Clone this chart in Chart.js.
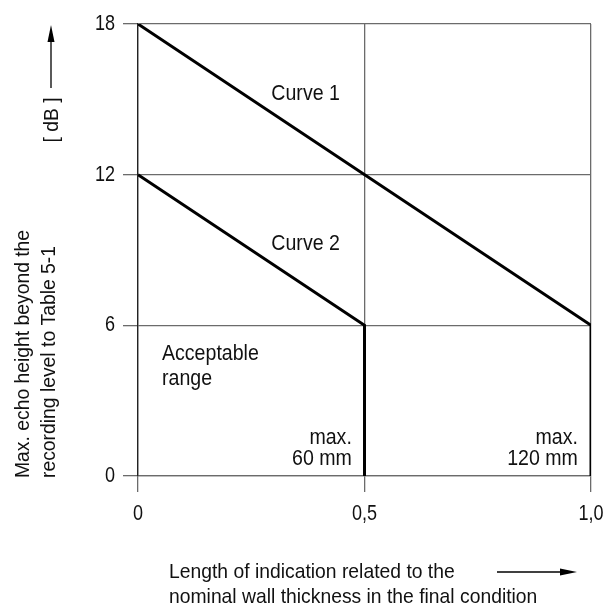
<!DOCTYPE html>
<html>
<head>
<meta charset="utf-8">
<script src="https://cdn.jsdelivr.net/npm/chart.js@4.4.1/dist/chart.umd.min.js"></script>
<style>
  html, body { margin: 0; padding: 0; background: #fff; }
  #wrap { width: 605px; height: 607px; }
</style>
</head>
<body>
<div id="wrap"><canvas id="chart" width="605" height="607"></canvas></div>
<script>
// data
const xTicks = [0, 0.5, 1.0];
const xTickLabels = ['0', '0,5', '1,0'];
const yTicks = [0, 6, 12, 18];
const yTickLabels = ['0', '6', '12', '18'];

const curve1 = [
    { x: 0, y: 18 },
    { x: 1.0, y: 6 },
    { x: 1.0, y: 0 }
];
const curve2 = [
    { x: 0, y: 12 },
    { x: 0.5, y: 6 },
    { x: 0.5, y: 0 }
];

// text notes placed in data coordinates
const notes = [
    { text: 'Curve 1', x: 0.37, y: 15.2, align: 'center' },
    { text: 'Curve 2', x: 0.37, y: 9.24, align: 'center' },
    { text: 'Acceptable', x: 0.053, y: 4.86, align: 'left' },
    { text: 'range', x: 0.053, y: 3.86, align: 'left' },
    { text: 'max.', x: 0.472, y: 1.52, align: 'right' },
    { text: '60 mm', x: 0.472, y: 0.66, align: 'right' },
    { text: 'max.', x: 0.971, y: 1.52, align: 'right' },
    { text: '120 mm', x: 0.971, y: 0.66, align: 'right' }
];

const yTitle = ['Max. echo height beyond the', 'recording level to Table 5-1'];
const xTitle = ['Length of indication related to the', 'nominal wall thickness in the final condition'];
const unitLabel = '[ dB ]';

const FONT = '"Liberation Sans", Arial, sans-serif';
const GRID = '#6b6b6b';

// the drawing uses a slightly narrow sans, so squeeze the text a bit
function text(ctx, str, x, y, align, size, squeeze, angle) {
    ctx.save();
    ctx.translate(x, y);
    if (angle) ctx.rotate(angle);
    ctx.scale(squeeze, 1);
    ctx.font = size + 'px ' + FONT;
    ctx.textAlign = align;
    ctx.textBaseline = 'middle';
    ctx.fillText(str, 0, 0);
    ctx.restore();
}

function arrow(ctx, x1, y1, x2, y2) {
    const ang = Math.atan2(y2 - y1, x2 - x1);
    const headLen = 17, headW = 3.5;
    ctx.save();
    ctx.strokeStyle = '#000';
    ctx.fillStyle = '#000';
    ctx.lineWidth = 1.3;
    ctx.beginPath();
    ctx.moveTo(x1, y1);
    ctx.lineTo(x2 - headLen * Math.cos(ang), y2 - headLen * Math.sin(ang));
    ctx.stroke();
    ctx.translate(x2, y2);
    ctx.rotate(ang);
    ctx.beginPath();
    ctx.moveTo(0, 0);
    ctx.lineTo(-headLen, -headW);
    ctx.lineTo(-headLen, headW);
    ctx.closePath();
    ctx.fill();
    ctx.restore();
}

const decorations = {
    id: 'decorations',
    afterDraw(chart) {
        const ctx = chart.ctx;
        const xs = chart.scales.x;
        const ys = chart.scales.y;
        ctx.save();
        ctx.fillStyle = '#111';

        // tick labels
        xTicks.forEach((v, i) => {
            text(ctx, xTickLabels[i], xs.getPixelForValue(v), ys.bottom + 38, 'center', 22, 0.82);
        });
        yTicks.forEach((v, i) => {
            text(ctx, yTickLabels[i], xs.left - 23, ys.getPixelForValue(v), 'right', 22, 0.82);
        });

        notes.forEach(n => {
            text(ctx, n.text, xs.getPixelForValue(n.x), ys.getPixelForValue(n.y), n.align, 21.5, 0.91);
        });

        // y title, rotated
        text(ctx, yTitle[0], 23, 478, 'left', 21, 0.92, -Math.PI / 2);
        text(ctx, yTitle[1], 49, 478, 'left', 21, 0.92, -Math.PI / 2);

        // unit label and arrow
        text(ctx, unitLabel, 52, 120, 'center', 21, 0.92, -Math.PI / 2);
        arrow(ctx, 51, 88, 51, 25);

        // x title
        text(ctx, xTitle[0], 169, 572, 'left', 21, 0.92);
        text(ctx, xTitle[1], 169, 597, 'left', 21, 0.92);
        arrow(ctx, 497, 572, 577, 572);
        ctx.restore();
    }
};

new Chart(document.getElementById('chart'), {
    type: 'scatter',
    data: {
        datasets: [
            {
                label: 'Curve 1',
                data: curve1,
                showLine: true,
                borderColor: '#000',
                borderWidth: 3,
                pointRadius: 0,
                fill: false
            },
            {
                label: 'Curve 2',
                data: curve2,
                showLine: true,
                borderColor: '#000',
                borderWidth: 3,
                pointRadius: 0,
                fill: false
            }
        ]
    },
    options: {
        responsive: false,
        animation: false,
        devicePixelRatio: 1,
        layout: { padding: { top: 24, right: 14, left: 0, bottom: 0 } },
        plugins: {
            legend: { display: false },
            tooltip: { enabled: false }
        },
        scales: {
            x: {
                type: 'linear',
                min: 0,
                max: 1.0,
                afterBuildTicks: (s) => { s.ticks = xTicks.map(v => ({ value: v })); },
                afterFit: (s) => { s.height = 131; },
                ticks: { display: false },
                grid: { color: GRID, lineWidth: 1.3, tickLength: 16 },
                border: { color: GRID, width: 1.3 }
            },
            y: {
                type: 'linear',
                min: 0,
                max: 18,
                afterBuildTicks: (s) => { s.ticks = yTicks.map(v => ({ value: v })); },
                afterFit: (s) => { s.width = 138; },
                ticks: { display: false },
                grid: { color: GRID, lineWidth: 1.3, tickLength: 15 },
                border: { color: '#222', width: 1.3 }
            }
        }
    },
    plugins: [decorations]
});
</script>
</body>
</html>
